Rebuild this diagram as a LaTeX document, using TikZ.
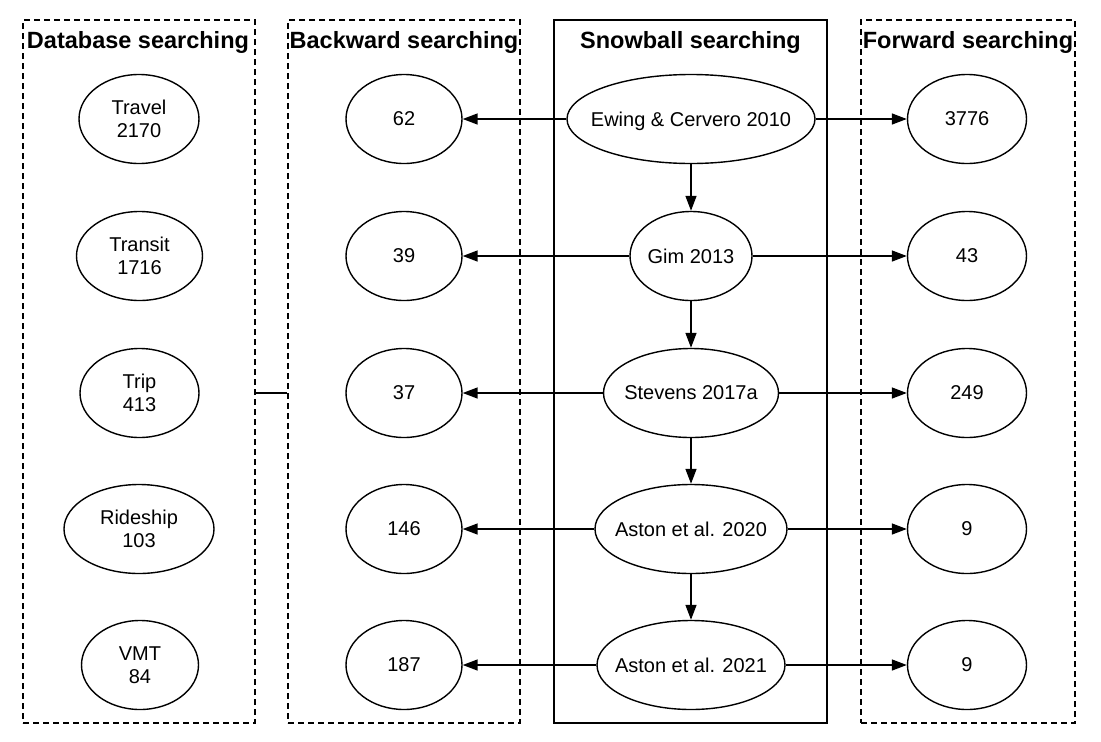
\documentclass[tikz,border=0pt]{standalone}
\usepackage{fontspec}
\setmainfont{Liberation Sans}
\usetikzlibrary{arrows.meta, shapes.geometric}

\tikzset{
	frame/.style = {draw, line width = 1.4pt, minimum height = 703pt, inner sep = 0pt},
	dashframe/.style = {frame, dash pattern = on 6pt off 4pt},
	title/.style = {font = \fontsize{23.5pt}{27pt}\selectfont\bfseries, inner sep = 0pt, anchor = base},
	oval/.style = {ellipse, draw, line width = 1.4pt, inner sep = 0pt, minimum width = #1, minimum height = 89pt, align = center, font = \fontsize{20pt}{23pt}\selectfont},
	oval/.default = 120pt,
	paper/.style = {oval = #1, inner xsep = -14pt, text depth = 0pt}
}

\begin{document}
\begin{tikzpicture}[x = 1pt, y = -1pt, > = {Triangle[length = 15pt, width = 11pt]}, line width = 1.5pt]

\useasboundingbox (0, 0) rectangle (1101, 742);

% Column frames

\node [dashframe, minimum width = 232pt] (dbbox) at (139, 371.5) {};
\node [dashframe, minimum width = 232pt] (bwbox) at (404, 371.5) {};
\node [frame, minimum width = 273pt] (sbbox) at (690.5, 371.5) {};
\node [dashframe, minimum width = 214pt] (fwbox) at (968, 371.5) {};

% Column titles

\node [title] (dbtitle) at (138, 48) {Database searching};
\node [title] (bwtitle) at (404, 48) {Backward searching};
\node [title] (sbtitle) at (690.5, 48) {Snowball searching};
\node [title] (fwtitle) at (968, 48) {Forward searching};

% Database searching

\node [oval] (travel) at (139, 119) {Travel\\2170};
\node [oval = 126pt] (transit) at (139.5, 256) {Transit\\1716};
\node [oval = 119pt] (trip) at (139.5, 393) {Trip\\413};
\node [oval = 150pt] (rideship) at (139, 529) {Rideship\\103};
\node [oval = 117pt] (vmt) at (140, 665) {VMT\\84};

% Backward searching

\node [oval = 116pt] (bw1) at (404, 119) {62};
\node [oval = 116pt] (bw2) at (404, 256) {39};
\node [oval = 116pt] (bw3) at (404, 393) {37};
\node [oval = 116pt] (bw4) at (404, 529) {146};
\node [oval = 116pt] (bw5) at (404, 665) {187};

% Snowball searching

\node [paper = 248pt] (ewing) at (691, 119) {Ewing \& Cervero 2010};
\node [paper = 122pt] (gim) at (691, 256) {Gim 2013};
\node [paper = 175pt] (stevens) at (691, 393) {Stevens 2017a};
\node [paper = 192pt] (aston20) at (691, 529) {Aston et al. 2020};
\node [paper = 188pt] (aston21) at (691, 665) {Aston et al. 2021};

% Forward searching

\node [oval = 119pt] (fw1) at (967, 119) {3776};
\node [oval = 119pt] (fw2) at (967, 256) {43};
\node [oval = 119pt] (fw3) at (967, 393) {249};
\node [oval = 119pt] (fw4) at (967, 529) {9};
\node [oval = 119pt] (fw5) at (967, 665) {9};

% Link between database and backward columns

\draw (dbbox.east |- trip) -- (bwbox.west |- trip);

% Snowball chain

\draw [->] (ewing) -- (gim);
\draw [->] (gim) -- (stevens);
\draw [->] (stevens) -- (aston20);
\draw [->] (aston20) -- (aston21);

% Backward and forward arrows

\draw [->] (ewing) -- (bw1);
\draw [->] (gim) -- (bw2);
\draw [->] (stevens) -- (bw3);
\draw [->] (aston20) -- (bw4);
\draw [->] (aston21) -- (bw5);

\draw [->] (ewing) -- (fw1);
\draw [->] (gim) -- (fw2);
\draw [->] (stevens) -- (fw3);
\draw [->] (aston20) -- (fw4);
\draw [->] (aston21) -- (fw5);

\end{tikzpicture}
\end{document}
